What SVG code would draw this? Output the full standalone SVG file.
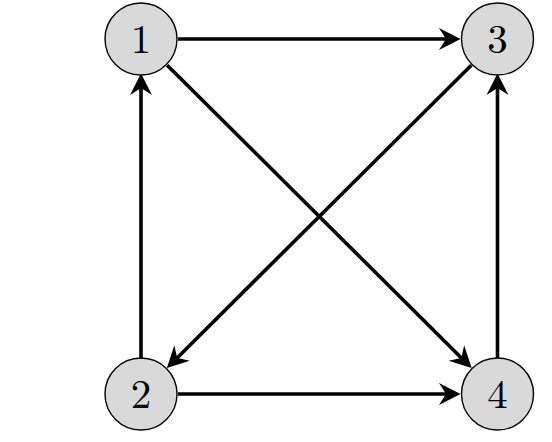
<svg xmlns="http://www.w3.org/2000/svg" width="552" height="442" viewBox="0 0 552 442">
<style>
.node circle{fill:#d9d9d9;stroke:#000;stroke-width:1.4}
.node text{font-family:"Latin Modern Roman","DejaVu Serif","Liberation Serif",serif;font-size:41px;text-anchor:middle;fill:#000}
.edge{stroke:#000;stroke-width:3.6;fill:none;marker-end:url(#arr)}
</style>
<defs>
<marker id="arr" markerUnits="userSpaceOnUse" markerWidth="30" markerHeight="30" refX="12" refY="12" orient="auto" overflow="visible">
<path d="M22.5,12 L1,1 L8,12 L1,23 Z" fill="#000"/>
</marker>
</defs>
<rect width="552" height="442" fill="#fff"/>
<g id="edges">
<line class="edge" x1="178" y1="39" x2="450" y2="39"/>
<line class="edge" x1="141" y1="358" x2="141" y2="84"/>
<line class="edge" x1="497.5" y1="358" x2="497.5" y2="84"/>
<line class="edge" x1="178" y1="394" x2="450" y2="394"/>
<line class="edge" x1="167.2" y1="65.2" x2="464.2" y2="360.7"/>
<line class="edge" x1="471.3" y1="65.2" x2="174.3" y2="360.7"/>
</g>
<g id="n1" class="node"><circle cx="141" cy="39" r="36"/><text x="141" y="52.5">1</text></g>
<g id="n3" class="node"><circle cx="497.5" cy="39" r="36"/><text x="497.5" y="52.5">3</text></g>
<g id="n2" class="node"><circle cx="141" cy="394" r="36"/><text x="141" y="407.5">2</text></g>
<g id="n4" class="node"><circle cx="497.5" cy="394" r="36"/><text x="497.5" y="407.5">4</text></g>
</svg>
